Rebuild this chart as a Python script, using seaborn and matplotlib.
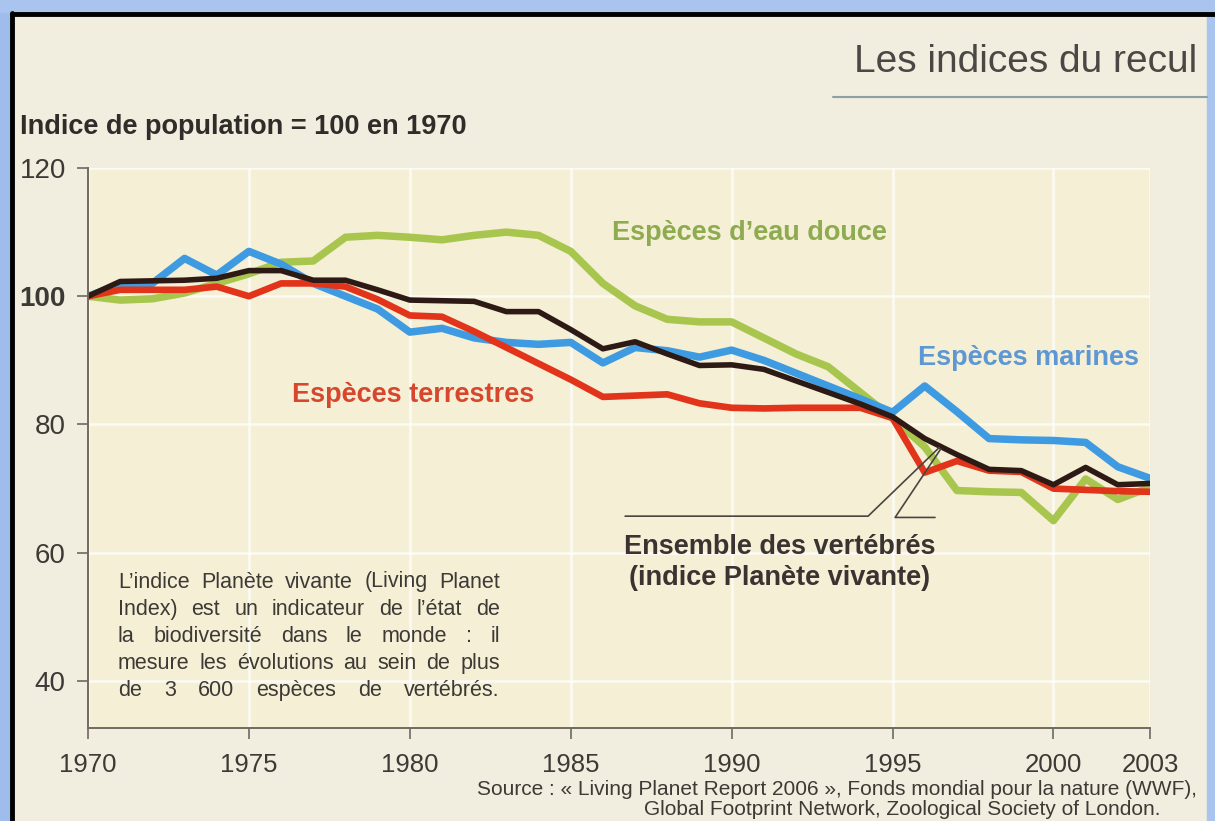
"""
Les indices du recul - Living Planet Index 1970-2003
"""

import pandas as pd
import matplotlib.pyplot as plt
import seaborn as sns
from matplotlib.patches import Rectangle
from matplotlib.lines import Line2D

# %%
years = list(range(1970, 2004))

eau_douce = [100, 99.4, 99.6, 100.5, 102, 103.5, 105.3, 105.5, 109.2, 109.5,
             109.2, 108.8, 109.5, 110, 109.5, 107, 102, 98.5, 96.4, 96,
             96, 93.5, 91, 89, 85, 81, 76.5, 69.7, 69.5, 69.4,
             65, 71.5, 68.3, 70.2]
marines = [100, 101.8, 102, 105.9, 103.3, 107, 105, 102, 100, 98,
           94.4, 95, 93.5, 92.8, 92.5, 92.8, 89.6, 92, 91.5, 90.5,
           91.6, 90, 88, 86, 84, 81.9, 86, 82, 77.8, 77.6,
           77.5, 77.2, 73.4, 71.6]
terrestres = [100, 101, 101, 101, 101.5, 100, 102, 102, 101.5, 99.5,
              97, 96.8, 94.5, 92, 89.5, 87, 84.3, 84.5, 84.7, 83.3,
              82.6, 82.5, 82.6, 82.6, 82.6, 81, 72.5, 74.3, 72.8, 72.6,
              70, 69.8, 69.6, 69.5]
vertebres = [100, 102.3, 102.4, 102.5, 102.8, 104, 104, 102.5, 102.5, 101,
             99.4, 99.3, 99.2, 97.6, 97.6, 94.8, 91.8, 92.9, 91, 89.2,
             89.3, 88.6, 86.8, 85, 83.2, 81.2, 77.8, 75.3, 73, 72.8,
             70.6, 73.3, 70.6, 70.8]

series_names = ["eau douce", "marines", "terrestres", "vertébrés"]
series_values = [eau_douce, marines, terrestres, vertebres]

yticks = [40, 60, 80, 100, 120]
xticks = [1970, 1975, 1980, 1985, 1990, 1995, 2000, 2003]

df = pd.concat(
    [pd.DataFrame({"year": years, "value": v, "series": n})
     for n, v in zip(series_names, series_values)],
    ignore_index=True,
)

# %%
line_colors = {"eau douce": "#a8c64e", "marines": "#3f9be1",
               "terrestres": "#e2341b", "vertébrés": "#2d1a15"}
line_widths = {"eau douce": 5.4, "marines": 5.4, "terrestres": 4.8, "vertébrés": 4.0}

sns.set_theme(style="white")
plt.rcParams["font.family"] = ["Liberation Sans", "DejaVu Sans"]

W, H = 1215, 821
fig = plt.figure(figsize=(12.15, 8.21), dpi=100, facecolor="#f1eddf")

# scan frame: blue margins and black border
fig.patches.append(Rectangle((0, 0), 10 / W, 1, transform=fig.transFigure,
                             color="#9fbdec", zorder=0))
fig.patches.append(Rectangle((0, 1 - 12 / H), 1, 12 / H, transform=fig.transFigure,
                             color="#a9c4ee", zorder=0))
fig.patches.append(Rectangle((1207 / W, 0), 8 / W, 1, transform=fig.transFigure,
                             color="#a9c4ee", zorder=0))
fig.lines.append(Line2D([12 / W, 12 / W], [0, 1 - 13 / H], transform=fig.transFigure,
                        color="black", lw=3.5))
fig.lines.append(Line2D([12 / W, 1], [1 - 14 / H, 1 - 14 / H], transform=fig.transFigure,
                        color="black", lw=3.5))

ax = fig.add_axes([88 / W, 93 / H, 1062 / W, 560 / H])
ax.set_facecolor("#f4efd5")

for name in series_names:
    sns.lineplot(data=df[df["series"] == name], x="year", y="value",
                 color=line_colors[name], linewidth=line_widths[name],
                 solid_joinstyle="round", solid_capstyle="round", ax=ax)

ax.set_xlim(1970, 2003)
ax.set_ylim(32.66, 120)
ax.set_xticks(xticks)
ax.set_yticks(yticks)
ax.set_xlabel("")
ax.set_ylabel("")
ax.grid(True, color="white", lw=1.8, alpha=0.75)
ax.set_axisbelow(True)
for s in ["top", "right"]:
    ax.spines[s].set_visible(False)
for s in ["left", "bottom"]:
    ax.spines[s].set_color("#6f6a62")
    ax.spines[s].set_linewidth(1.4)
ax.tick_params(axis="both", direction="out", length=8, width=1.2, color="#6f6a62",
               labelcolor="#3d3a36")
ax.tick_params(axis="y", pad=8, labelsize=20)
ax.tick_params(axis="x", pad=10, labelsize=18.5)
ax.tick_params(left=True, bottom=True)
for lab in ax.get_yticklabels():
    if lab.get_text() == "100":
        lab.set_fontweight("bold")

# series labels
ax.text(1986.28, 109.8, "Espèces d’eau douce", color="#8eab50", fontsize=19.5,
        fontweight="bold", va="center", ha="left")
ax.text(1995.79, 90.3, "Espèces marines", color="#5d97d4", fontsize=19.5,
        fontweight="bold", va="center", ha="left")
ax.text(1976.34, 84.6, "Espèces terrestres", color="#d6472d", fontsize=19.5,
        fontweight="bold", va="center", ha="left")
ax.text(1991.5, 58.5, "Ensemble des vertébrés\n(indice Planète vivante)", color="#3b3331",
        fontsize=19.5, fontweight="bold", va="center", ha="center", linespacing=1.25)

# leader lines to the overall index
ax.plot([1986.69, 1994.24, 1996.45], [65.7, 65.7, 76.4], color="#4a4540", lw=1.2)
ax.plot([1996.32, 1995.08, 1996.5], [65.5, 65.5, 76.2], color="#4a4540", lw=1.2)

# note, justified between x=118 and x=500 px
note = ["L’indice Planète vivante (Living Planet",
        "Index) est un indicateur de l’état de",
        "la biodiversité dans le monde : il",
        "mesure les évolutions au sein de plus",
        "de 3 600 espèces de vertébrés."]
renderer = fig.canvas.get_renderer()
x0, x1 = 118, 500
for i, line in enumerate(note):
    y = 1 - (582 + i * 27) / H
    words = line.split(" ")
    texts = [fig.text(0, y, w, color="#3d3a36", fontsize=15.5, va="center", ha="left")
             for w in words]
    widths = [t.get_window_extent(renderer).width for t in texts]
    gap = (x1 - x0 - sum(widths)) / max(len(words) - 1, 1)
    x = x0
    for t, w in zip(texts, widths):
        t.set_x(x / W)
        x += w + gap

# titles and source
fig.text(1197 / W, 1 - 62 / H, "Les indices du recul",
         fontsize=28, color="#4a4744", ha="right", va="center")
fig.lines.append(Line2D([833 / W, 1207 / W], [1 - 97 / H, 1 - 97 / H],
                        transform=fig.transFigure, color="#8aa3a0", lw=1.5))
fig.text(20 / W, 1 - 127 / H, "Indice de population = 100 en 1970",
         fontsize=19.5, fontweight="bold", color="#2f2c29", ha="left", va="center")
fig.text(1197 / W, 1 - 789 / H,
         "Source : « Living Planet Report 2006 », Fonds mondial pour la nature (WWF),",
         fontsize=15, color="#3d3a36", ha="right", va="center")
fig.text(1160 / W, 1 - 809 / H,
         "Global Footprint Network, Zoological Society of London.",
         fontsize=15, color="#3d3a36", ha="right", va="center")

fig.savefig("out.png", dpi=100, facecolor=fig.get_facecolor())
